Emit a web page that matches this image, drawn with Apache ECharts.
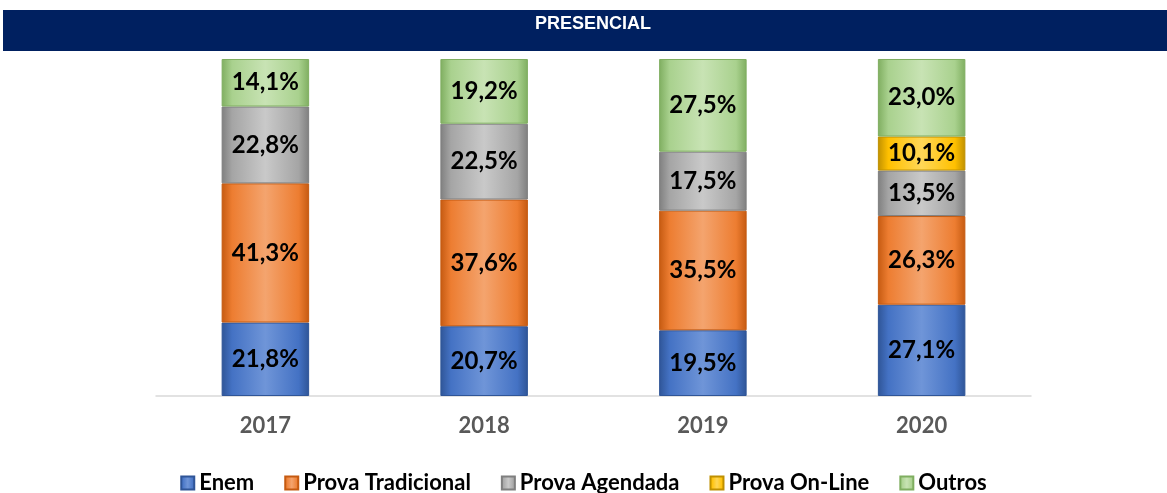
<!DOCTYPE html>
<html><head><meta charset="utf-8">
<script src="https://cdn.jsdelivr.net/npm/echarts@6/dist/echarts.min.js"></script>
<style>html,body{margin:0;padding:0;background:#fff}#c{width:1167px;height:493px}</style>
</head><body><div id="c"></div>
<script>
const categories = ['2017', '2018', '2019', '2020'];
const enem = [21.8, 20.7, 19.5, 27.1];
const provaTradicional = [41.3, 37.6, 35.5, 26.3];
const provaAgendada = [22.8, 22.5, 17.5, 13.5];
const provaOnLine = [null, null, null, 10.1];
const outros = [14.1, 19.2, 27.5, 23.0];
const seriesNames = ['Enem', 'Prova Tradicional', 'Prova Agendada', 'Prova On-Line', 'Outros'];
const title = 'PRESENCIAL';

const colors = [
  ['#4472C4', '#2F5597', '#6F95D8'],
  ['#ED7D31', '#C55A11', '#F4A46E'],
  ['#A5A5A5', '#7F7F7F', '#C9C9C9'],
  ['#FFC000', '#BF9000', '#FFD757'],
  ['#A9D18E', '#7FAE60', '#C8E3B4']
];
function grad(c) {
  return new echarts.graphic.LinearGradient(0, 0, 1, 0, [
    {offset: 0, color: c[1]}, {offset: 0.12, color: c[0]},
    {offset: 0.5, color: c[2]}, {offset: 0.88, color: c[0]}, {offset: 1, color: c[1]}
  ]);
}
const data = [enem, provaTradicional, provaAgendada, provaOnLine, outros];
const chart = echarts.init(document.getElementById('c'));
chart.setOption({
  animation: false,
  graphic: [
    {type: 'rect', shape: {x: 3, y: 10, width: 1164, height: 41}, style: {fill: '#002060'}},
    {type: 'text', x: 593, y: 24, style: {text: title, fill: '#fff', font: 'bold 18px "Liberation Sans Narrow", "Liberation Sans"', textAlign: 'center', textVerticalAlign: 'middle'}}
  ],
  grid: {left: 156, right: 136, top: 59, bottom: 97},
  legend: {
    top: 467, left: 'center', itemWidth: 13, itemHeight: 13, itemGap: 30,
    textStyle: {fontFamily: 'Lato', fontWeight: 'bold', fontSize: 22, color: '#000'},
    data: seriesNames.map((n, i) => ({name: n, icon: 'rect'}))
  },
  xAxis: {
    type: 'category', data: categories,
    axisLine: {lineStyle: {color: '#D9D9D9', width: 1.5}},
    axisTick: {show: false},
    axisLabel: {color: '#595959', fontFamily: 'Lato', fontWeight: 'bold', fontSize: 22, margin: 19}
  },
  yAxis: {type: 'value', min: 0, max: 100, show: false, splitLine: {show: false}},
  series: seriesNames.map((n, i) => ({
    name: n, type: 'bar', stack: 'total', barCategoryGap: '60%',
    data: data[i],
    itemStyle: {color: grad(colors[i]), borderColor: colors[i][1], borderWidth: 1},
    label: {
      show: true, position: 'inside', color: '#000',
      fontFamily: 'Lato', fontWeight: 'bold', fontSize: 24,
      formatter: p => p.value == null ? '' : p.value.toFixed(1).replace('.', ',') + '%'
    }
  }))
});
</script></body></html>
